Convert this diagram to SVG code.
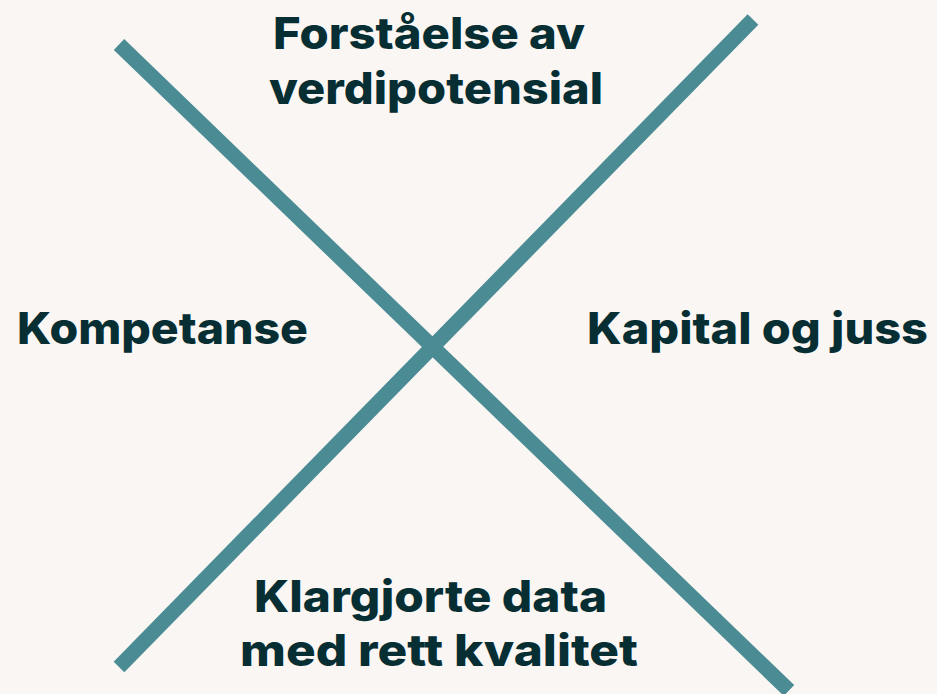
<svg xmlns="http://www.w3.org/2000/svg" width="937" height="694" viewBox="0 0 937 694">
  <style>
    .bg { fill: #faf6f3; }
    .cross { stroke: #4a8b94; stroke-width: 15; stroke-linecap: butt; fill: none; }
    .label { font-family: Inter, "Open Sans", "Liberation Sans", sans-serif; font-weight: 800; font-size: 44px; fill: #062e33; }
  </style>
  <rect class="bg" x="0" y="0" width="937" height="694"/>
  <g id="connectors">
    <line class="cross" x1="119" y1="44.5" x2="789" y2="690.5"/>
    <line class="cross" x1="119" y1="667" x2="753" y2="19.5"/>
  </g>
  <g id="node-top">
    <text class="label" x="273" y="49" textLength="312" lengthAdjust="spacingAndGlyphs">Forståelse av</text>
    <text class="label" x="269" y="103.5" textLength="334" lengthAdjust="spacingAndGlyphs">verdipotensial</text>
  </g>
  <g id="node-left">
    <text class="label" x="17" y="344.3" textLength="291" lengthAdjust="spacingAndGlyphs">Kompetanse</text>
  </g>
  <g id="node-right">
    <text class="label" x="587" y="344.3" textLength="341" lengthAdjust="spacingAndGlyphs">Kapital og juss</text>
  </g>
  <g id="node-bottom">
    <text class="label" x="254" y="611.7" textLength="353" lengthAdjust="spacingAndGlyphs">Klargjorte data</text>
    <text class="label" x="240" y="666" textLength="398" lengthAdjust="spacingAndGlyphs">med rett kvalitet</text>
  </g>
</svg>
